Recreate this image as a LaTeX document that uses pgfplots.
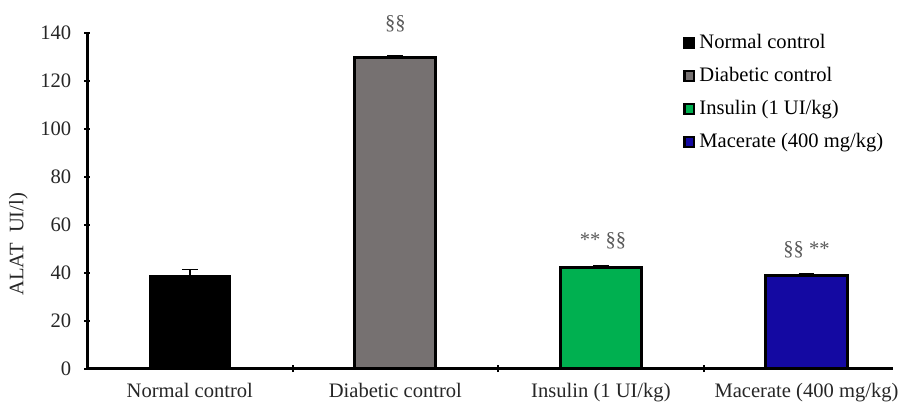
\documentclass[border=0pt]{standalone}
\usepackage{pgfplots}
\pgfplotsset{compat=1.18}
\usepackage{fontspec}
\setmainfont{Liberation Serif}

\definecolor{grayBar}{HTML}{767171}
\definecolor{greenBar}{HTML}{00B050}
\definecolor{blueBar}{HTML}{1409A2}
\definecolor{annot}{HTML}{595959}

\newcommand{\lblfont}{\fontsize{10.4}{12.5}\selectfont}

\begin{document}
\begin{tikzpicture}
\begin{axis}[
  scale only axis,
  width=407.5pt, height=170pt,
  ybar, bar width=41pt, bar shift=0pt,
  xmin=-0.5, xmax=3.42,
  ymin=0, ymax=140,
  ytick={0,20,...,140},
  xtick={0,1,2,3},
  xticklabels={Normal control, Diabetic control, Insulin (1 UI/kg), Macerate (400 mg/kg)},
  minor xtick={0.5,1.5,2.5},
  every major x tick/.append style={draw=none},
  tick align=outside,
  major tick length=3pt, minor tick length=3.5pt,
  every tick/.append style={black, line width=1pt},
  axis x line=bottom, axis y line=left,
  axis line style={-, line width=1.5pt, black},
  /pgf/number format/assume math mode=true,
  ticklabel style={font=\lblfont, text=black!85},
  xticklabel style={yshift=-2.5pt},
  yticklabel style={xshift=-3pt},
  ylabel={ALAT\ \ UI/l)},
  every axis y label/.style={at={(axis description cs:-0.085,0.37)}, rotate=90, anchor=center},
  ylabel style={font=\lblfont, text=black!85},
  clip=false,
  error bars/y dir=plus, error bars/y explicit,
  error bars/error bar style={black, line width=0.8pt},
  error bars/error mark options={rotate=90, mark size=4pt, line width=0.8pt},
  legend style={at={(0.732,1.02)}, anchor=north west, draw=none, fill=none,
    font=\lblfont, row sep=4pt,
    /tikz/every even column/.append style={column sep=1pt}},
  legend cell align=left,
  legend image code/.code={\draw[#1, line width=1.2pt, draw=black] (0pt,-2.6pt) rectangle (5pt,2.4pt);},
]
\addplot[fill=black, draw=black, line width=0.5pt] coordinates {(0,39) +- (0,2.4)};
\addplot[fill=grayBar, draw=black, line width=1.5pt] coordinates {(1,129.5) +- (0,0.8)};
\addplot[fill=greenBar, draw=black, line width=1.5pt] coordinates {(2,42) +- (0,0.9)};
\addplot[fill=blueBar, draw=black, line width=1.5pt] coordinates {(3,39) +- (0,0.7)};
\legend{Normal control, Diabetic control, Insulin (1 UI/kg), Macerate (400 mg/kg)}

\node[text=annot, font=\lblfont] at (axis cs:1,143.6) {§§};
\node[text=annot, font=\lblfont] at (axis cs:2.01,53.5) {** §§};
\node[text=annot, font=\lblfont] at (axis cs:3.0,49.5) {§§ **};

% white margins above and left of the plot area
\path (rel axis cs:0,1) -- ++(0,16.5pt);
\path (axis description cs:-0.108,0.5) -- (axis description cs:0,0.5);
\end{axis}
\end{tikzpicture}
\end{document}
